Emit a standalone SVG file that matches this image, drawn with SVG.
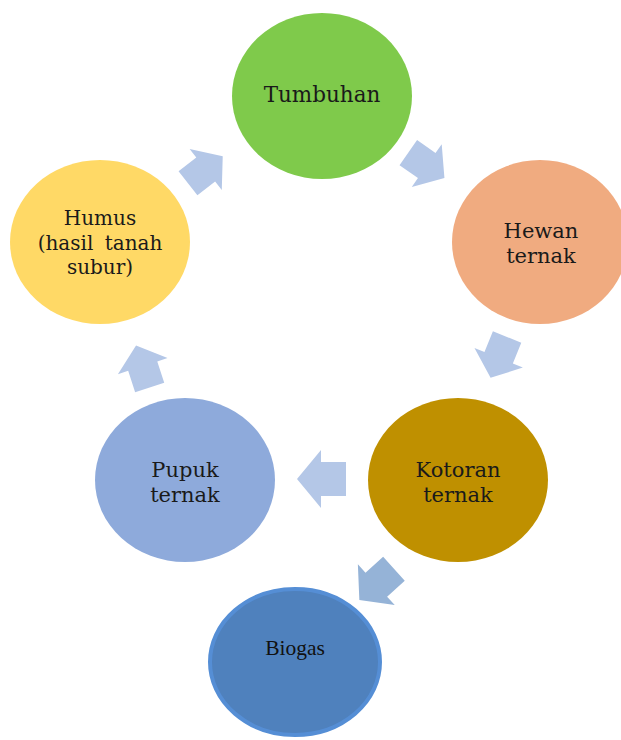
<svg xmlns="http://www.w3.org/2000/svg" width="621" height="740" viewBox="0 0 621 740">
<style>
.lbl{font-family:"DejaVu Serif","Liberation Serif",serif;fill:#1a1a1a;text-anchor:middle;font-size:21px}
.sm{font-size:20px}
.big{font-size:21.5px}
.bio{font-family:"Liberation Serif","DejaVu Serif",serif;fill:#111;text-anchor:middle;font-size:21.5px}
.arr{fill:#b4c7e7}
.arr2{fill:#95b3d7}
</style>
<defs>
<polygon id="blk" points="-24,-17 1,-17 1,-29 25,0 1,29 1,17 -24,17"/>
</defs>
<rect width="621" height="740" fill="#fff"/>
<g id="connectors">
<use href="#blk" class="arr" transform="translate(205,170) rotate(-38) scale(0.9)"/>
<use href="#blk" class="arr" transform="translate(426,165) rotate(35) scale(0.9)"/>
<use href="#blk" class="arr" transform="translate(499,357) rotate(112) scale(0.9)"/>
<use href="#blk" class="arr" transform="translate(322,479) rotate(180) scale(1)"/>
<use href="#blk" class="arr" transform="translate(143,367) rotate(-108) scale(0.9)"/>
<use href="#blk" class="arr2" transform="translate(377,584) rotate(138) scale(0.95)"/>
</g>
<g id="tumbuhan">
<ellipse cx="322" cy="96" rx="90" ry="83" fill="#7fca4b"/>
<text class="lbl big" x="322" y="102">Tumbuhan</text>
</g>
<g id="hewan">
<ellipse cx="540" cy="242" rx="88" ry="82" fill="#f0ab80"/>
<text class="lbl" x="541" y="238">Hewan</text>
<text class="lbl" x="541" y="263">ternak</text>
</g>
<g id="kotoran">
<ellipse cx="458" cy="480" rx="90" ry="82" fill="#bf9000"/>
<text class="lbl" x="458" y="477">Kotoran</text>
<text class="lbl" x="458" y="502">ternak</text>
</g>
<g id="pupuk">
<ellipse cx="185" cy="480" rx="90" ry="82" fill="#8eaadb"/>
<text class="lbl" x="185" y="477">Pupuk</text>
<text class="lbl" x="185" y="502">ternak</text>
</g>
<g id="humus">
<ellipse cx="100" cy="242" rx="90" ry="82" fill="#ffd966"/>
<text class="lbl sm" x="100" y="225">Humus</text>
<text class="lbl sm" x="100" y="250" word-spacing="5">(hasil tanah</text>
<text class="lbl sm" x="100" y="274">subur)</text>
</g>
<g id="biogas">
<ellipse cx="295" cy="662" rx="85" ry="73" fill="#4f81bd" stroke="#558ed5" stroke-width="4"/>
<text class="bio" x="295" y="655">Biogas</text>
</g>
</svg>
